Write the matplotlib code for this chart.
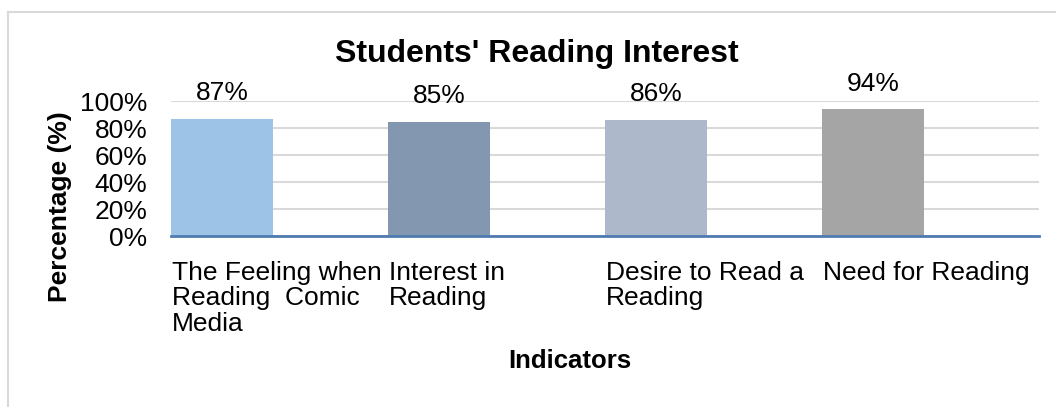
import matplotlib.pyplot as plt
from matplotlib.lines import Line2D

# === DATA ===
categories = ["The Feeling when\nReading  Comic\nMedia", "Interest in\nReading",
              "Desire to Read a\nReading", "Need for Reading"]
values = [0.87, 0.85, 0.86, 0.94]
value_labels = ["87%", "85%", "86%", "94%"]
bar_colors = ["#9dc3e6", "#8497b0", "#adb9ca", "#a5a5a5"]
y_ticks = [0, 0.2, 0.4, 0.6, 0.8, 1.0]
y_tick_labels = ["0%", "20%", "40%", "60%", "80%", "100%"]

plt.rcParams['font.family'] = ['Liberation Sans', 'DejaVu Sans']

W, H = 1056, 407
fig = plt.figure(figsize=(W / 100, H / 100), dpi=100)
ax = fig.add_axes([171 / W, (H - 236) / H, 868 / W, 134.7 / H])

x = list(range(len(values)))
ax.bar(x, values, width=0.47, align='edge', color=bar_colors, zorder=3)

for i, (v, lab) in enumerate(zip(values, value_labels)):
    ax.annotate(lab, (i + 0.235, v), xytext=(0, 18.5), textcoords='offset points',
                ha='center', va='center', fontsize=19, annotation_clip=False)

for i, cat in enumerate(categories):
    ax.annotate(cat, (i, 0), xytext=(0.5, -18), textcoords='offset points',
                ha='left', va='top', fontsize=19, linespacing=1.07,
                annotation_clip=False)

ax.set_xlim(0, 4)
ax.set_ylim(0, 1.0)
ax.set_yticks(y_ticks)
ax.set_yticklabels(y_tick_labels, fontsize=19)
ax.set_xticks([])
ax.tick_params(axis='y', length=0, pad=17)
ax.grid(axis='y', color='#d9d9d9', linewidth=1.5, zorder=0)
for s in ['top', 'right', 'left']:
    ax.spines[s].set_visible(False)
ax.spines['bottom'].set_color('#4f7bb0')
ax.spines['bottom'].set_linewidth(2)
ax.spines['bottom'].set_zorder(4)

fig.text(537 / W, 1 - 62 / H, "Students' Reading Interest", ha='center', va='baseline',
         fontsize=23, fontweight='bold')
fig.text(570 / W, 1 - 368 / H, "Indicators", ha='center', va='baseline',
         fontsize=18.5, fontweight='bold')
fig.text(60 / W, 1 - 207 / H, "Percentage (%)", ha='center', va='center', rotation=90,
         fontsize=19, fontweight='bold')

# chart border (left and top visible)
fig.add_artist(Line2D([8 / W, 8 / W], [0, 1 - 12 / H], transform=fig.transFigure,
                      color='#d9d9d9', linewidth=1.5))
fig.add_artist(Line2D([8 / W, 1], [1 - 12 / H, 1 - 12 / H], transform=fig.transFigure,
                      color='#d9d9d9', linewidth=1.5))

fig.savefig('out.png', dpi=100)
